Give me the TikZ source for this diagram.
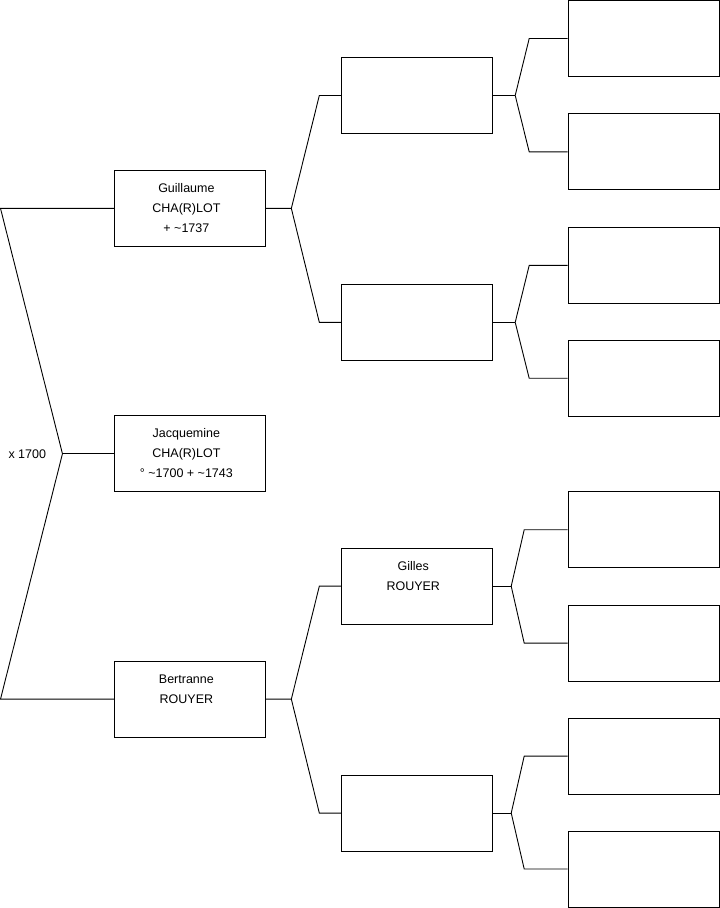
\documentclass[tikz,border=0pt]{standalone}
\usepackage{fontspec}
\setmainfont{Liberation Sans}
\usetikzlibrary{positioning}
\newcommand{\famtext}[1]{\parbox[c][76pt][t]{151pt}{\centering\leftskip=-7pt plus 1fil\rule{0pt}{22pt}#1}}

\begin{document}
\begin{tikzpicture}[x=1pt, y=-1pt, line width=0.9pt,
    card/.style={draw, inner sep=0pt, minimum width=151pt, minimum height=76pt,
      font=\fontsize{12.5}{20}\selectfont},
    plain/.style={inner sep=3pt, font=\fontsize{12.5}{20}\selectfont}]
  \useasboundingbox (-0.5,-0.5) rectangle (719.5,908);
  % couple
  \node[card] (g) at (189.5,208) {\famtext{Guillaume\\CHA(R)LOT\\+ \textasciitilde1737}};
  \node[card] (j) at (189.5,453.5) {\famtext{Jacquemine\\CHA(R)LOT\\° \textasciitilde1700 + \textasciitilde1743}};
  \node[card] (b) at (189.5,699) {\famtext{Bertranne\\ROUYER}};
  \coordinate (f0) at (62,453.5);
  \coordinate (fg) at (0,208);
  \coordinate (fb) at (0,699);
  \node[plain, left=13pt of f0] (wed) {x 1700};
  \draw (j.west) -- (f0);
  \draw (f0) -- (fg) -- (g.west);
  \draw (f0) -- (fb) -- (b.west);
  % parents
  \node[card] (p1) at (416.5,95) {};
  \node[card] (p2) at (416.5,322) {};
  \node[card] (p3) at (416.5,586) {\famtext{Gilles\\ROUYER}};
  \node[card] (p4) at (416.5,813) {};
  \coordinate (f1) at (291,208);
  \coordinate (f2) at (291,699);
  \draw (g.east) -- (f1) -- (319,95) coordinate (e1) -- (p1.west);
  \draw (f1) -- (319,322) coordinate (e2) -- (p2.west);
  \draw (b.east) -- (f2) -- (319,586) coordinate (e3) -- (p3.west);
  \draw (f2) -- (319,813) coordinate (e4) -- (p4.west);
  % grandparents
  \foreach \n/\y in {1/38,2/151.5,3/265,4/378,5/529.5,6/643,7/756,8/869}
    \node[card] (q\n) at (643.5,\y) {};
  \foreach \p/\a/\b/\fx/\ex in {1/1/2/515/529,2/3/4/515/529,3/5/6/511/524,4/7/8/511/524} {
    \coordinate (k\p) at (\fx,0 |- p\p.east);
    \draw (p\p.east) -- (k\p);
    \draw (k\p) -- (\ex,0 |- q\a.west) -- (q\a.west);
    \draw (k\p) -- (\ex,0 |- q\b.west) -- (q\b.west);
  }
\end{tikzpicture}
\end{document}
